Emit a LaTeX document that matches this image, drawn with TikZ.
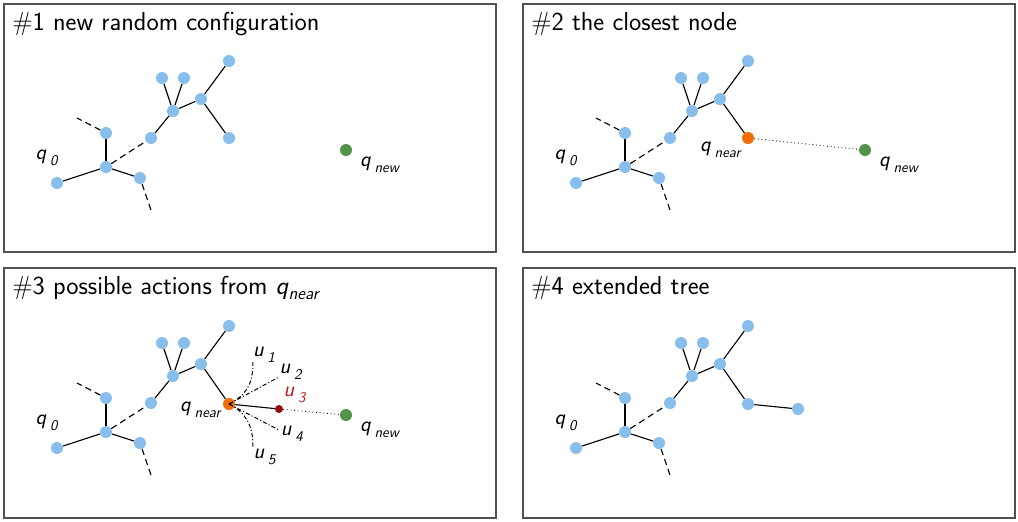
\documentclass[tikz,border=0pt]{standalone}
\usepackage{amsmath}
\usepackage{tikz}

\definecolor{treeblue}{RGB}{136,190,236}
\definecolor{newgreen}{RGB}{82,148,72}
\definecolor{nearorange}{RGB}{242,108,8}
\definecolor{actred}{RGB}{150,10,10}
\definecolor{labred}{RGB}{185,30,30}
\definecolor{framegray}{RGB}{80,80,80}

% q-style labels with a spaced, lowered index
\newcommand{\ql}[2]{\textit{#1}\,\raisebox{-.6ex}{\fontsize{10.5}{12}\selectfont\textit{#2}}}

% the part of the tree that is the same in all four panels
\newcommand{\basetree}{
				\node[vert] (r) at (106,167) {};
				\node[vert] (l) at (57,183) {};
				\node[vert] (up) at (106,133) {};
				\node[vert] (rt) at (140,178) {};
				\node[vert] (a) at (151,138) {};
				\node[vert] (b) at (173,111) {};
				\node[vert] (c1) at (162,78) {};
				\node[vert] (c2) at (184,78) {};
				\node[vert] (d) at (201,99) {};
				\node[vert] (e) at (229,61) {};
				\coordinate (s1) at (77,118);
				\coordinate (s2) at (151,210);
				\node[lbl] (q0) at (47,158) {\ql{q}{0}};
				\draw[edge] (r) -- (l);
				\draw[edge] (r) -- (up);
				\draw[edge] (r) -- (rt);
				\draw[edge] (a) -- (b);
				\draw[edge] (b) -- (c1);
				\draw[edge] (b) -- (c2);
				\draw[edge] (b) -- (d);
				\draw[edge] (d) -- (e);
				\draw[edge,stub] (up) -- (s1);
				\draw[edge,stub] (rt) -- (s2);
				\draw[edge,stub] (r) -- (a);
}

\begin{document}
\begin{tikzpicture}[x=0.025cm, y=-0.025cm,
				vert/.style={circle, fill=treeblue, minimum size=3mm, inner sep=0pt},
				near/.style={circle, fill=nearorange, minimum size=3mm, inner sep=0pt},
				goal/.style={circle, fill=newgreen, minimum size=3mm, inner sep=0pt},
				act/.style={circle, fill=actred, minimum size=2mm, inner sep=0pt},
				edge/.style={line width=0.8pt},
				stub/.style={dash pattern=on 4.5pt off 3pt},
				try/.style={line width=0.7pt, dash pattern=on 3pt off 1.5pt on 0.8pt off 1.5pt},
				lbl/.style={font=\sffamily\fontsize{15.5}{18}\selectfont, inner sep=0pt},
				title/.style={font=\sffamily\fontsize{18.5}{22}\selectfont, anchor=base west, inner sep=0pt},
				panel/.style={draw=framegray, line width=1.1pt}]
				\useasboundingbox (0,0) rectangle (1018,521);

				% #1
				\begin{scope}[name prefix=p1-]
				\draw[panel] (4,4) rectangle (496,252);
				\node[title] (t) at (12,30) {\#1 new random configuration};
				\basetree
				\node[vert] (f) at (229,138) {};
				\draw[edge] (d) -- (f);
				\node[goal] (qn) at (346,150) {};
				\node[lbl] (qnl) at (380,165) {\ql{q}{new}};
				\end{scope}

				% #2
				\begin{scope}[shift={(519,0)}, name prefix=p2-]
				\draw[panel] (4,4) rectangle (496,252);
				\node[title] (t) at (12,30) {\#2 the closest node};
				\basetree
				\node[near] (f) at (229,138) {};
				\draw[edge] (d) -- (f);
				\node[goal] (qn) at (346,150) {};
				\node[lbl] (qnl) at (380,165) {\ql{q}{new}};
				\node[lbl] (fl) at (202,150) {\ql{q}{near}};
				\draw[line width=0.6pt, dotted] (f) -- (qn);
				\end{scope}

				% #3
				\begin{scope}[shift={(0,265)}, name prefix=p3-]
				\draw[panel] (4,3) rectangle (496,253);
				\node[title] (t) at (12,29) {\#3 possible actions from \textit{q}\raisebox{-.5ex}{\fontsize{12.5}{14}\selectfont\textit{near}}};
				\basetree
				\node[near] (f) at (229,139) {};
				\draw[edge] (d) -- (f);
				\node[goal] (qn) at (346,150) {};
				\node[lbl] (qnl) at (380,165) {\ql{q}{new}};
				\node[lbl] (fl) at (201,145) {\ql{q}{near}};
				\node[act] (u3) at (279,144) {};
				\coordinate (u1) at (253,97);
				\coordinate (u2) at (279,112);
				\coordinate (u4) at (279,165);
				\coordinate (u5) at (253,182);
				\draw[edge] (f) -- (u3);
				\draw[line width=0.6pt, dotted] (u3) -- (qn);
				\draw[try] (f.center) .. controls (246,130) and (253,120) .. (u1);
				\draw[try] (f.center) -- (u2);
				\draw[try] (f.center) -- (u4);
				\draw[try] (f.center) .. controls (246,148) and (253,160) .. (u5);
				\node[lbl] (u1l) at (264,90) {\ql{u}{1}};
				\node[lbl] (u2l) at (291,107) {\ql{u}{2}};
				\node[lbl, text=labred] (u3l) at (295,130) {\ql{u}{3}};
				\node[lbl] (u4l) at (292,169) {\ql{u}{4}};
				\node[lbl] (u5l) at (265,192) {\ql{u}{5}};
				\end{scope}

				% #4
				\begin{scope}[shift={(519,265)}, name prefix=p4-]
				\draw[panel] (4,3) rectangle (496,253);
				\node[title] (t) at (12,29) {\#4 extended tree};
				\basetree
				\node[vert] (f) at (229,139) {};
				\draw[edge] (d) -- (f);
				\node[vert] (g) at (279,144) {};
				\draw[edge] (f) -- (g);
				\end{scope}
\end{tikzpicture}
\end{document}
